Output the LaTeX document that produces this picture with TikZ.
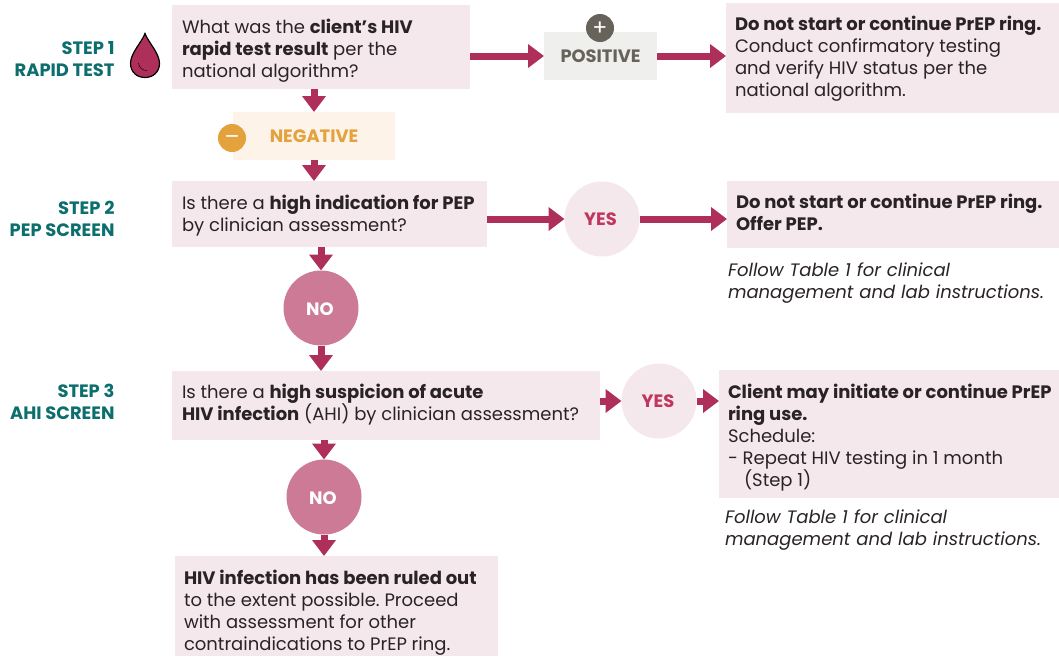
\documentclass[tikz,border=0pt]{standalone}
\usepackage{fontspec}
\setmainfont{Poppins}[BoldFeatures={LetterSpace=-0.1},ItalicFeatures={WordSpace=1.1}]
\usetikzlibrary{arrows.meta,calc}
\definecolor{boxpink}{HTML}{F5E8EC}
\definecolor{flowred}{HTML}{AE2F5A}
\definecolor{noclr}{HTML}{CC7A96}
\definecolor{yesclr}{HTML}{C0365F}
\definecolor{negbg}{HTML}{FDF3E9}
\definecolor{negclr}{HTML}{E3A23C}
\definecolor{posbg}{HTML}{EFEFEE}
\definecolor{posclr}{HTML}{68635A}
\definecolor{tealc}{HTML}{0D6E6E}
\definecolor{inkc}{HTML}{2A2326}
\newcommand{\bodysize}{\frenchspacing\fontsize{18}{22}\selectfont}
\newcommand{\tagsize}{\fontsize{17.9}{22}\selectfont\bfseries}
\newcommand{\nudge}[1]{\rule{0pt}{#1}}
\newcommand{\lift}[1]{\rule[-#1]{0pt}{0pt}}
\tikzset{
  every node/.style={inner sep=0pt,outer sep=0pt,text=inkc,execute at begin node={\spaceskip=0pt \xspaceskip=0pt }},
  qbox/.style={fill=boxpink,anchor=north west,align=left,inner xsep=10pt,font=\bodysize},
  steplabel/.style={anchor=east,align=right,text=tealc,font=\fontsize{17.9}{22}\selectfont\bfseries},
  notetext/.style={anchor=north west,align=left,font=\bodysize\itshape},
  tagbox/.style={anchor=north west,font=\tagsize},
  yesdot/.style={circle,fill=boxpink,minimum size=75pt,text=yesclr,font=\fontsize{17.9}{20}\selectfont\bfseries},
  nodot/.style={circle,fill=noclr,minimum size=75pt,text=white,font=\fontsize{17.9}{20}\selectfont\bfseries},
  signdot/.style={circle,minimum size=28pt,text=white,font=\fontsize{22}{22}\selectfont},
  flow/.style={draw=flowred,line width=7pt,-{Triangle[length=16pt,width=23pt,fill=flowred]}},
}
\begin{document}
\begin{tikzpicture}[x=1pt,y=-1pt]
\useasboundingbox (0,0) rectangle (1059,656);
% step labels
\node[steplabel] (s1) at (114.5,59) {STEP 1\\RAPID TEST};
\node[steplabel] (s2) at (114.5,219) {STEP 2\\PEP SCREEN};
\node[steplabel] (s3) at (114.5,402) {STEP 3\\AHI SCREEN};
% drop
\draw[fill=flowred,draw=black,line width=1.2pt] (145,33.5)
  .. controls (142,42) and (130.5,53) .. (130.5,63.5)
  .. controls (130.5,72) and (137,77.5) .. (145,77.5)
  .. controls (153,77.5) and (159.5,72) .. (159.5,63.5)
  .. controls (159.5,53) and (148,42) .. (145,33.5) -- cycle;
\draw[black,line width=.5pt] (138.5,63) .. controls (139,67.5) and (142,70.5) .. (147,70.5);
% boxes
\node[qbox,minimum width=298pt,minimum height=84pt,text width=278pt] (q1) at (172,5)
  {\nudge{22pt}What was the \textbf{client’s HIV}\\\textbf{rapid test result} per the\\national algorithm?};
\node[tagbox,fill=negbg,minimum width=162pt,minimum height=48pt,text=negclr,align=center] (neg) at (233,112) {NEGATIVE};
\node[signdot,fill=negclr] (minus) at (232,138) {\raisebox{-6pt}[0pt][0pt]{–}};
\node[tagbox,fill=posbg,minimum width=113pt,minimum height=48pt,text=posclr,align=center] (pos) at (544,32) {POSITIVE};
\node[signdot,fill=posclr] (plus) at (600,28) {\raisebox{-7.5pt}[0pt][0pt]{+}};
\node[qbox,inner xsep=9pt,minimum width=333pt,minimum height=110pt,text width=315pt] (r1) at (726,3)
  {\nudge{16pt}\mbox{\textbf{Do not start or continue PrEP ring.}}\\Conduct confirmatory testing\\and verify HIV status per the\\national algorithm.};
\node[qbox,minimum width=315pt,minimum height=66pt,text width=295pt] (q2) at (172,181)
  {\nudge{18pt}\mbox{Is there a \textbf{high indication for PEP}}\\by clinician assessment?};
\node[yesdot] (y1) at (602,219) {YES\hspace*{3pt}};
\node[qbox,inner xsep=9pt,minimum width=332pt,minimum height=67pt,text width=314pt] (r2) at (727,181)
  {\mbox{\textbf{Do not start or continue PrEP ring.}}\\\textbf{Offer PEP.}\lift{5pt}};
\node[notetext] (n1) at (728,260) {\nudge{16pt}Follow Table 1 for clinical\\management and lab instructions.};
\node[nodot] (no1) at (321,308) {\raisebox{-7.3pt}[0pt][0pt]{NO}\hspace*{2pt}};
\node[qbox,minimum width=428pt,minimum height=69pt,text width=408pt] (q3) at (172,371)
  {Is there a \textbf{high suspicion of acute}\\\textbf{HIV infection} (AHI) by clinician assessment?\lift{7pt}};
\node[yesdot] (y2) at (659,401) {YES\hspace*{2pt}};
\node[qbox,inner xsep=9pt,minimum width=340pt,minimum height=128pt,text width=322pt] (r3) at (719,370)
  {\nudge{21pt}\mbox{\textbf{Client may initiate or continue PrEP}}\\\textbf{ring use.}\\Schedule:\\- Repeat HIV testing in 1 month\\\hspace*{16pt}(Step 1)};
\node[notetext] (n2) at (725,507) {\nudge{16pt}Follow Table 1 for clinical\\management and lab instructions.};
\node[nodot] (no2) at (324,497) {\raisebox{-7.3pt}[0pt][0pt]{NO}\hspace*{2pt}};
\node[qbox,inner xsep=9pt,minimum width=323pt,minimum height=100pt,text width=305pt] (final) at (175,556)
  {\nudge{27pt}\textbf{HIV infection has been ruled out}\\to the extent possible. Proceed\\with assessment for other\\contraindications to PrEP ring.};
% connectors
\draw[flow] (pos.west -| q1.east) -- (pos.west);
\draw[flow] (pos.east) -- (pos.east -| r1.west);
\draw[flow] (neg.north |- q1.south) -- (neg.north);
\draw[flow] (neg.south) -- (neg.south |- q2.north);
\draw[flow] (y1.west -| q2.east) -- (y1.west);
\draw[flow] (y1.east) -- (y1.east -| r2.west);
\draw[flow] (no1.north |- q2.south) -- (no1.north);
\draw[flow] (no1.south) -- (no1.south |- q3.north);
\draw[flow] (y2.west -| q3.east) -- (y2.west);
\draw[flow] (y2.east) -- (y2.east -| r3.west);
\draw[flow] (no2.north |- q3.south) -- (no2.north);
\draw[flow] (no2.south) -- (no2.south |- final.north);
\end{tikzpicture}
\end{document}
